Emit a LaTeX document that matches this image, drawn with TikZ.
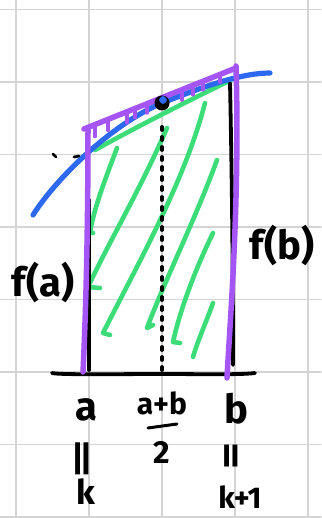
\documentclass[tikz,border=0pt]{standalone}
\usepackage{fontspec}
\setmainfont{Fira Sans}
\usepackage{graphicx}
\begin{document}
\begin{tikzpicture}[x=1pt,y=-1pt,line cap=round,line join=round,
  gridline/.style={draw=black!17,line width=1.8pt},
  purp/.style={draw=purp,line width=5.5pt},
  bluec/.style={draw=bluec,line width=5.2pt},
  greenc/.style={draw=greenc,line width=4.6pt},
  ink/.style={draw=black,line width=3.8pt},
  lbl/.style={font=\fontsize{40}{40}\selectfont\bfseries,inner sep=0pt}]
\definecolor{purp}{RGB}{165,85,245}
\definecolor{bluec}{RGB}{45,105,240}
\definecolor{greenc}{RGB}{60,220,120}
\useasboundingbox (0,0) rectangle (321,518);
\fill[white] (0,0) rectangle (321,518);
% grid
\foreach \x in {16,89,162,235,308} \draw[gridline] (\x,0) -- (\x,518);
\foreach \y in {9.5,82,154.5,227,299.5,372,444.5,517} \draw[gridline] (0,\y) -- (321,\y);
% green hatching
\draw[greenc] (117,148) .. controls (105,180) and (95,205) .. (90,232) -- (93,233);
\draw[greenc] (167,128) .. controls (140,190) and (110,240) .. (88,287) -- (100,288);
\draw[greenc] (205,103) .. controls (185,180) and (140,260) .. (103,333) -- (110,335);
\draw[greenc] (217,160) .. controls (195,220) and (165,280) .. (147,328) -- (153,325);
\draw[greenc] (213,233) .. controls (195,270) and (180,310) .. (173,342) -- (180,343);
\draw[greenc] (213,303) .. controls (205,325) and (198,340) .. (193,357);
% green chord
\draw[greenc] (95,150) .. controls (140,125) and (190,100) .. (231,80);
% black verticals
\draw[ink] (89,200) -- (89,370);
\draw[ink] (230,83) .. controls (232,180) and (233,280) .. (233,365);
% dotted midline
\draw[ink,dash pattern=on 3pt off 7pt] (162,127) -- (162,374);
% axis
\draw[ink] (52,373) .. controls (60,375) and (120,374) .. (162,374) .. controls (200,374) and (240,375) .. (255,373);
% blue curve
\draw[bluec] (33,215) .. controls (55,180) and (110,125) .. (162,103) .. controls (200,88) and (240,73) .. (270,73);
% purple hatching ticks
\foreach \x/\l in {95/10,108/9,127/9,135/7,147/7,182/8,193/7,203/6,220/5}
  \draw[purp,line width=3.2pt] (\x,{128-60*(\x-84)/152+3}) -- ++(0,\l);
% purple box
\draw[purp] (84,129) -- (236,68);
\draw[purp] (88,128) .. controls (88,250) and (85,330) .. (83,372);
\draw[purp] (236,66) .. controls (240,200) and (230,320) .. (227,378);
% stray marks
\draw[ink,line width=2.8pt] (53,154) -- (56,157);
\draw[ink,line width=2.8pt] (74,157) -- (79,156);
% midpoint dot
\node[circle,fill=black,minimum size=15pt,inner sep=0pt] (m) at (162,103) {};
\fill[bluec] (163,100) circle (1.3pt);
% labels
\node[lbl] (fa) at (43,282) {f(a)};
\node[lbl] (fb) at (282,245) {f(b)};
\node[lbl] (a) at (86,410) {a};
\node[lbl,font=\fontsize{30}{30}\selectfont\bfseries] (ab) at (162,403) {a+b};
\draw[ink,line width=3pt] (148,428) -- (177,424);
\node[lbl,font=\fontsize{32}{32}\selectfont\bfseries] (two) at (162,452) {2};
\node[lbl] (b) at (236,409) {b};
\node[lbl] (e1) at (86,459) {\rotatebox{90}{\scalebox{1.9}[1]{=}}};
\node[lbl] (e2) at (235,456) {\rotatebox{90}{\scalebox{1.3}[1]{=}}};
\node[lbl,font=\fontsize{34}{34}\selectfont\bfseries] (k) at (86,492) {k};
\node[lbl,font=\fontsize{30}{30}\selectfont\bfseries] (k1) at (240,497) {k+1};
\end{tikzpicture}
\end{document}
